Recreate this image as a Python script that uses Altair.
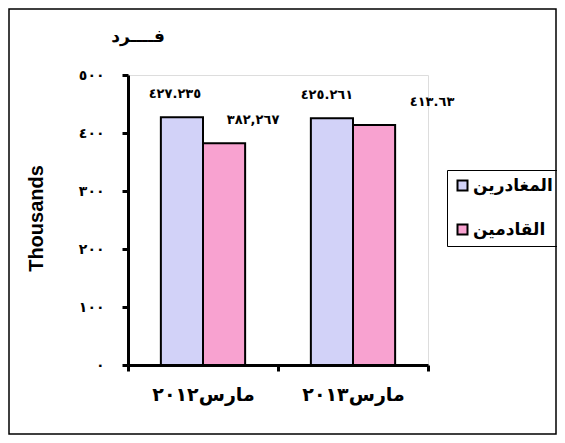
import altair as alt
import pandas as pd

categories = ["مارس٢٠١٢", "مارس٢٠١٣"]
series = ["المغادرين", "القادمين"]
departures = [427.235, 425.261]
arrivals = [382.267, 413.63]
dep_labels = ["٤٢٧.٢٣٥", "٤٢٥.٢٦١"]
arr_labels = ["٣٨٢,٢٦٧", "٤١٣.٦٣"]
y_ticks = [0, 100, 200, 300, 400, 500]
unit_title = "فــــرد"
y_title = "Thousands"
colors = ["#D2D2F8", "#F8A2D0"]

AR = "DejaVu Sans"
DIG = str.maketrans("0123456789", "٠١٢٣٤٥٦٧٨٩")

rows = []
for i, c in enumerate(categories):
    rows.append({"period": c, "series": series[0], "value": departures[i], "label": dep_labels[i], "key": f"{i}-0"})
    rows.append({"period": c, "series": series[1], "value": arrivals[i], "label": arr_labels[i], "key": f"{i}-1"})
df = pd.DataFrame(rows)

label_expr = " : ".join(f"datum.value == {v} ? '{str(v).translate(DIG)}'" for v in y_ticks) + " : ''"

x_enc = alt.X("period:N", sort=categories,
              scale=alt.Scale(paddingInner=0, paddingOuter=0),
              axis=alt.Axis(title=None, labelAngle=0, tickBand="extent",
                            labelFont=AR, labelFontWeight="bold", labelFontSize=19,
                            labelPadding=14, labelColor="black",
                            domainWidth=3, domainColor="black",
                            tickWidth=3, tickColor="black", tickSize=6))
xo_enc = alt.XOffset("series:N", sort=series,
                     scale=alt.Scale(paddingOuter=0.78, paddingInner=0))
y_enc = alt.Y("value:Q", scale=alt.Scale(domain=[0, 500], nice=False),
              axis=alt.Axis(values=y_ticks, labelExpr=label_expr, grid=False,
                            title=y_title, titleFont="Liberation Sans", titleFontSize=20,
                            titleFontWeight="bold", titleColor="black",
                            titleX=-92, titleY=143, titleAngle=-90,
                            titleAlign="center", titleBaseline="middle",
                            labelFont=AR, labelFontWeight="bold", labelFontSize=14,
                            labelPadding=18, labelColor="black",
                            domainWidth=3, domainColor="black",
                            tickWidth=3, tickColor="black", tickSize=6))

base = alt.Chart(df)

bars = base.mark_bar(stroke="black", strokeWidth=2).encode(
    x=x_enc, xOffset=xo_enc, y=y_enc,
    color=alt.Color("series:N", sort=series,
                    scale=alt.Scale(domain=series, range=colors),
                    legend=alt.Legend(title=None, orient="none", legendX=319, legendY=95,
                                      strokeColor="black", padding=7,
                                      labelFont=AR, labelFontWeight="bold", labelFontSize=17,
                                      labelColor="black", symbolType="square", symbolSize=100,
                                      symbolStrokeColor="black", symbolStrokeWidth=2,
                                      rowPadding=25, labelOffset=2))
)

offsets = {"0-0": -7, "0-1": 29, "1-0": -5, "1-1": 58}
texts = []
for key, dx in offsets.items():
    texts.append(
        base.transform_filter(alt.datum.key == key)
        .mark_text(dx=dx, dy=-23, font=AR, fontWeight="bold", fontSize=13,
                   color="black", baseline="middle", align="center")
        .encode(x=x_enc, xOffset=xo_enc, y=y_enc, text="label:N")
    )

title = alt.Chart(pd.DataFrame({"t": [unit_title]})).mark_text(
    font=AR, fontWeight="bold", fontSize=17, color="black", align="center", baseline="middle"
).encode(x=alt.value(10), y=alt.value(-38), text="t:N")

border = alt.Chart(pd.DataFrame({"b": [1]})).mark_rect(
    fillOpacity=0, stroke="black", strokeWidth=1.5
).encode(x=alt.value(-119), x2=alt.value(428), y=alt.value(-66), y2=alt.value(359))

chart = alt.layer(border, bars, *texts, title).properties(
    width=300, height=290,
    autosize=alt.AutoSizeParams(type="none"),
    padding={"left": 120, "top": 67, "right": 129, "bottom": 70},
).configure_view(stroke=None).configure(background="white")

chart.save("out.html", embed_options={"renderer": "svg", "actions": False})
